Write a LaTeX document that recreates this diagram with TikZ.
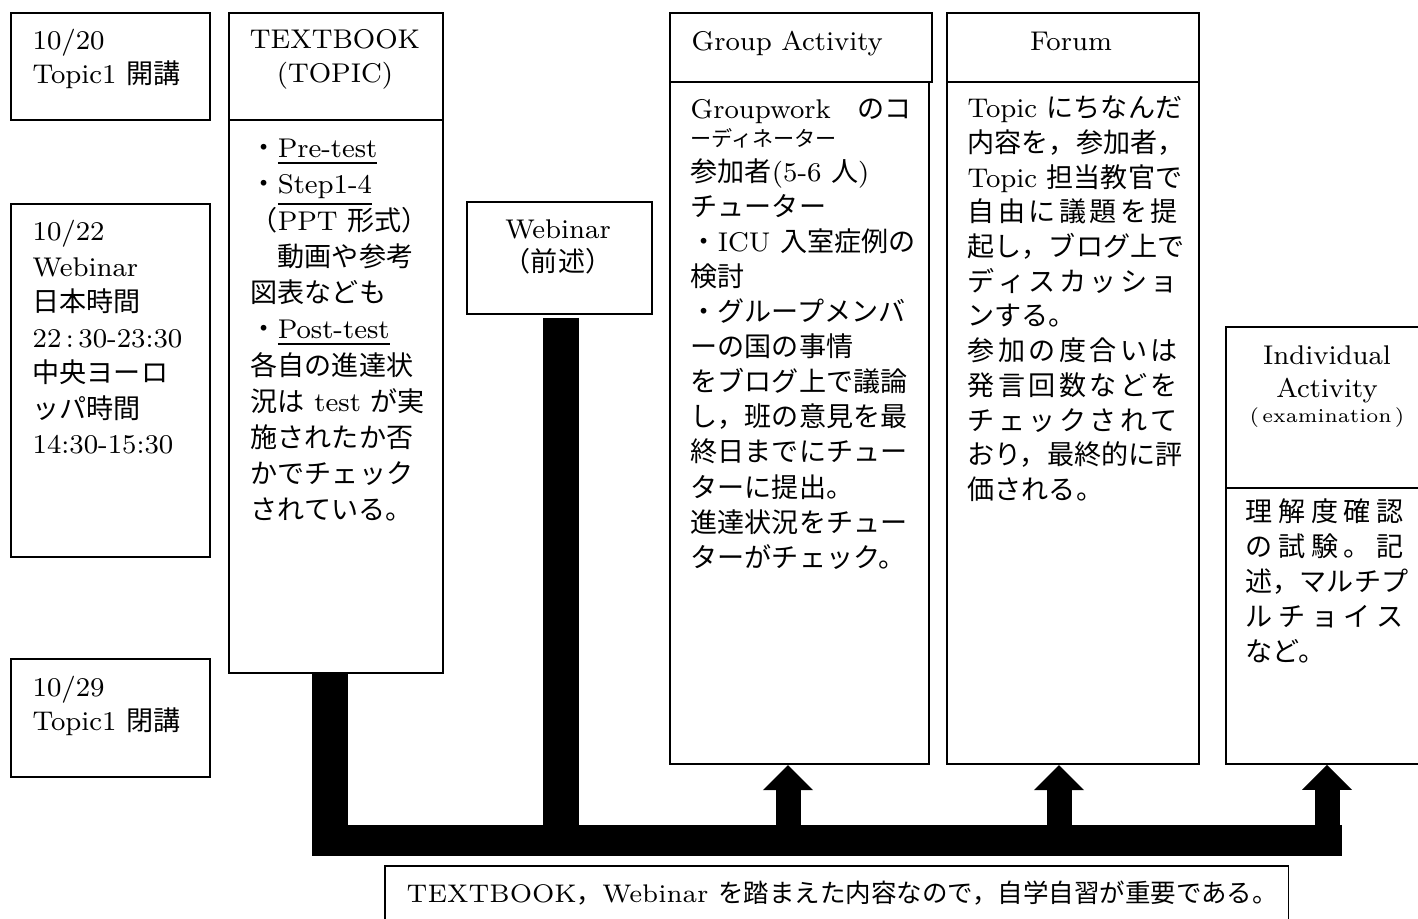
\documentclass[tikz,border=0pt]{standalone}
\usepackage{fontspec}
\newfontfamily\JP{Noto Sans CJK JP}
\usetikzlibrary{arrows.meta,calc}
\makeatletter
\let\spr@end\relax
\def\spreadto#1#2{\makebox[#1][s]{\spr@a#2\spr@end}}
\def\spr@a#1{#1\spr@b}
\def\spr@b#1{\ifx\spr@end#1\else\hfil#1\expandafter\spr@b\fi}
\makeatother
\newcommand\fstrut{\rule{0pt}{8pt}}
\begin{document}
\begin{tikzpicture}[x=0.01cm,y=-0.01cm,
  box/.style={draw, line width=0.5pt, inner sep=0pt, anchor=north west},
  txt/.style={inner sep=0pt, anchor=north west, align=left},
  ctxt/.style={inner sep=0pt, anchor=north, align=center},
  vbus/.style={line width=0.36cm},
  hbus/.style={line width=0.31cm},
  uparrow/.style={line width=0.25cm, -{Triangle[width=0.50cm,length=0.25cm,line width=0pt]}},
  font=\fontsize{7.7}{10}\selectfont]
\useasboundingbox (0,0) rectangle (1418,918);

% ---- boxes ----
\node[box, minimum width=1.99cm, minimum height=1.07cm] (d1) at (10,12) {};
\node[box, minimum width=1.99cm, minimum height=3.53cm] (d2) at (10,203) {};
\node[box, minimum width=1.99cm, minimum height=1.18cm] (d3) at (10,658) {};
\node[box, minimum width=2.14cm, minimum height=1.07cm] (tbh) at (228,12) {};
\node[box, minimum width=2.14cm, minimum height=5.53cm] (tbb) at (228,119) {};
\node[box, minimum width=1.85cm, minimum height=1.12cm] (web) at (466,201) {};
\node[box, minimum width=2.62cm, minimum height=0.69cm] (gah) at (669,12) {};
\node[box, minimum width=2.59cm, minimum height=6.82cm] (gab) at (669,81) {};
\node[box, minimum width=2.52cm, minimum height=0.69cm] (foh) at (946,12) {};
\node[box, minimum width=2.52cm, minimum height=6.82cm] (fob) at (946,81) {};
\node[box, minimum width=2.05cm, minimum height=1.61cm] (iah) at (1225,326) {};
\node[box, minimum width=2.05cm, minimum height=2.76cm] (iab) at (1225,487) {};
\node[box, minimum width=9.03cm, minimum height=0.75cm] (bot) at (384,865) {};

% ---- texts ----
\node[txt, font=\fontsize{7.7}{9.67}\selectfont] (d1t) at (32,20.9) {\fstrut 10/20\\Topic1 {\JP 開講}};
\node[txt, font=\fontsize{7.7}{10.1}\selectfont] (d2t) at (32,211.9) {\fstrut 10/22\\Webinar\\{\JP 日本時間}\\22\,:\,30-23:30\\{\JP 中央ヨーロ}\\{\JP ッパ時間}\\14:30-15:30};
\node[txt, font=\fontsize{7.7}{9.67}\selectfont] (d3t) at (32,667.9) {\fstrut 10/29\\Topic1 {\JP 閉講}};

\node[ctxt, font=\fontsize{7.7}{9.67}\selectfont] (tbht) at (335,19.9) {\fstrut TEXTBOOK\\(TOPIC)};
\node[txt, font=\fontsize{7.7}{10.3}\selectfont] (tbbt) at (250,128.9) {\fstrut{\JP ・}\underline{Pre-test}\\
{\JP ・}\underline{Step1-4}\\
{\JP （}PPT {\JP 形式）}\\
{\JP 　動画や参考}\\
{\JP 図表なども}\\
{\JP ・}\underline{Post-test}\\
{\JP 各自の進達状}\\
{\JP 況は} test {\JP が実}\\
{\JP 施されたか否}\\
{\JP かでチェック}\\
{\JP されている。}};

\node[ctxt, font=\fontsize{7.7}{9.39}\selectfont] (webt) at (558,209.9) {\fstrut Webinar\\{\JP （前述）}};

\node[txt] (gaht) at (691,21.9) {\fstrut Group Activity};
\node[txt, font=\fontsize{7.7}{9.96}\selectfont] (gabt) at (690,89.9) {\fstrut Groupwork{\JP 　のコ}\\[-0.07cm]
{\fontsize{6}{7}\selectfont\JP ーディネーター}\\
{\JP 参加者}(5-6 {\JP 人})\\
{\JP チューター}\\
{\JP ・}ICU {\JP 入室症例の}\\
{\JP 検討}\\
{\JP ・グループメンバ}\\
{\JP ーの国の事情}\\
{\JP をブログ上で議論}\\
{\JP し，班の意見を最}\\
{\JP 終日までにチュー}\\
{\JP ターに提出。}\\
{\JP 進達状況をチュー}\\
{\JP ターがチェック。}};

\node[ctxt] (foht) at (1071,21.9) {\fstrut Forum};
\node[txt, font=\fontsize{7.7}{9.87}\selectfont] (fobt) at (967,88.9) {\fstrut Topic {\JP にちなんだ}\\
{\JP 内容を，参加者，}\\
Topic {\JP 担当教官で}\\
{\JP\spreadto{2.1cm}{自由に議題を提}}\\
{\JP 起し，ブログ上で}\\
{\JP\spreadto{2.1cm}{ディスカッショ}}\\
{\JP ンする。}\\
{\JP\spreadto{2.1cm}{参加の度合いは}}\\
{\JP\spreadto{2.1cm}{発言回数などを}}\\
{\JP\spreadto{2.1cm}{チェックされて}}\\
{\JP おり，最終的に評}\\
{\JP 価される。}};

\node[ctxt, font=\fontsize{7.7}{9.39}\selectfont] (iaht) at (1327,335.9) {\fstrut Individual\\Activity\\[-0.08cm]{\fontsize{5.6}{7}\selectfont (\,examination\,)}};
\node[txt, font=\fontsize{7.7}{9.96}\selectfont] (iabt) at (1245,492.9) {\fstrut{\JP\spreadto{1.58cm}{理解度確認}}\\
{\JP\spreadto{1.58cm}{の試験。記}}\\
{\JP 述，マルチプ}\\
{\JP\spreadto{1.58cm}{ルチョイス}}\\
{\JP など。}};

\node[txt, font=\fontsize{7.25}{9}\selectfont] (bott) at (406,873.9) {\fstrut TEXTBOOK{\JP ，}Webinar {\JP を踏まえた内容なので，自学自習が重要である。}};

% ---- connectors ----
\coordinate (busL) at (312,840.5);
\coordinate (busR) at (1342,840.5);
\coordinate (tbx) at (330,840.5);
\coordinate (wbx) at (561,840.5);
\coordinate (aG) at (788,840.5);
\coordinate (aF) at (1059,840.5);
\coordinate (aI) at (1327,840.5);

\draw[vbus] (tbx |- tbb.south) -- (tbx);
\draw[vbus] ($(wbx |- web.south)+(0,3)$) -- (wbx);
\draw[hbus] (busL) -- (busR);
\draw[uparrow] (aG) -- (aG |- gab.south);
\draw[uparrow] (aF) -- (aF |- fob.south);
\draw[uparrow] (aI) -- (aI |- iab.south);
\end{tikzpicture}
\end{document}
